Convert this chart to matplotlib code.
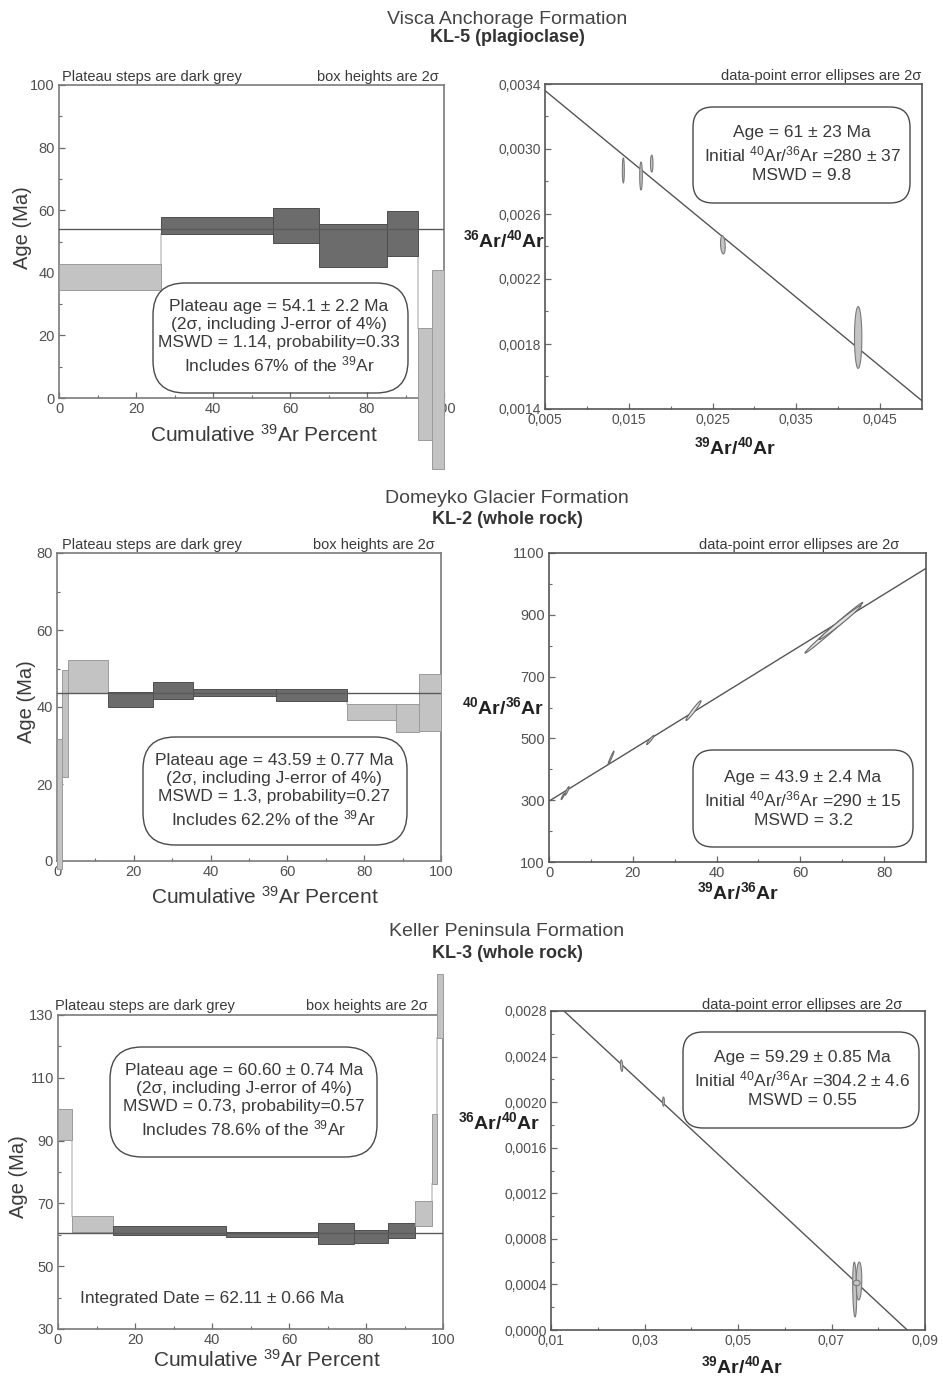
import numpy as np
import matplotlib
matplotlib.use('Agg')
import matplotlib.pyplot as plt
from matplotlib.patches import FancyBboxPatch

plt.rcParams['font.family'] = ['Liberation Sans', 'DejaVu Sans']
plt.rcParams['mathtext.fontset'] = 'custom'
plt.rcParams['mathtext.rm'] = 'Liberation Sans'
plt.rcParams['mathtext.it'] = 'Liberation Sans:italic'
plt.rcParams['mathtext.bf'] = 'Liberation Sans:bold'
plt.rcParams['mathtext.default'] = 'regular'

# ---------------- DATA ----------------
# KL-5 plateau (cumulative 39Ar %, 2-sigma box limits)
kl5_cum = [0, 26.5, 55.6, 67.6, 85.1, 93.3, 97.0, 100]
kl5_lo = [34.6, 52.3, 49.5, 41.9, 45.3, -13.4, -22.7]
kl5_hi = [42.7, 57.8, 60.8, 55.7, 59.6, 22.5, 40.8]
kl5_plat = [0, 1, 1, 1, 1, 0, 0]
kl5_age = 54.1
# KL-5 inverse isochron
kl5_x = [0.01435, 0.01646, 0.01774, 0.02623, 0.04238]
kl5_sx = [0.00012, 0.00016, 0.00015, 0.00028, 0.00044]
kl5_y = [0.002868, 0.002834, 0.00291, 0.00241, 0.00184]
kl5_sy = [0.000077, 0.000086, 0.000052, 0.000056, 0.00019]
kl5_rho = [0.0, 0.0, 0.0, -0.2, 0.0]
kl5_init = 280.0
kl5_xint = 0.0842

# KL-2 plateau
kl2_cum = [0, 1.2, 2.9, 13.3, 24.9, 35.3, 57.0, 75.5, 88.3, 94.2, 100]
kl2_lo = [-2.0, 21.7, 43.7, 39.9, 42.2, 42.9, 41.5, 36.6, 33.6, 33.7]
kl2_hi = [31.6, 49.7, 52.2, 43.9, 46.5, 44.8, 44.8, 40.7, 40.7, 48.7]
kl2_plat = [0, 0, 0, 1, 1, 1, 1, 0, 0, 0]
kl2_age = 43.59
# KL-2 normal isochron
kl2_x = [3.3, 4.3, 14.8, 24.2, 34.5, 68.0, 69.5]
kl2_sx = [0.4, 0.5, 0.72, 0.9, 1.8, 6.9, 5.0]
kl2_y = [312, 330, 437, 495, 590, 858, 875]
kl2_sy = [10, 14, 22, 15, 32, 82, 55]
kl2_rho = [0.9, 0.9, 0.97, 0.95, 0.97, 0.995, 0.99]
kl2_init = 297.0
kl2_slope = 8.37

# KL-3 plateau
kl3_cum = [0, 3.6, 14.2, 43.7, 67.5, 76.8, 85.6, 92.8, 97.1, 98.4, 100]
kl3_lo = [90.2, 61.0, 59.9, 59.2, 57.0, 57.5, 58.9, 62.9, 76.2, 122.8]
kl3_hi = [100.1, 66.1, 62.8, 60.8, 63.7, 61.5, 63.7, 70.8, 98.4, 143.0]
kl3_plat = [0, 0, 1, 1, 1, 1, 1, 0, 0, 0]
kl3_age = 60.60
# KL-3 inverse isochron
kl3_x = [0.0251, 0.03406, 0.07496, 0.07588, 0.07539]
kl3_sx = [0.00025, 0.0002, 0.00043, 0.0006, 0.00075]
kl3_y = [0.00232, 0.002005, 0.000355, 0.00043, 0.000413]
kl3_sy = [0.00005, 0.00004, 0.00024, 0.000167, 0.000024]
kl3_rho = [-0.3, 0.0, -0.2, 0.1, 0.0]
kl3_init = 304.2
kl3_xint = 0.0862

# tick labels
pl_xticks = [0, 20, 40, 60, 80, 100]
pl_xlabels = ['0', '20', '40', '60', '80', '100']
pl_xminor = [10, 30, 50, 70, 90]
kl5_yticks = [0, 20, 40, 60, 80, 100]
kl5_ylabels = ['0', '20', '40', '60', '80', '100']
kl5_yminor = [10, 30, 50, 70, 90]
kl2_yticks = [0, 20, 40, 60, 80]
kl2_ylabels = ['0', '20', '40', '60', '80']
kl2_yminor = [10, 30, 50, 70]
kl3_yticks = [30, 50, 70, 90, 110, 130]
kl3_ylabels = ['30', '50', '70', '90', '110', '130']
kl3_yminor = [40, 60, 80, 100, 120]

iso5_xticks = [0.005, 0.015, 0.025, 0.035, 0.045]
iso5_xlabels = ['0,005', '0,015', '0,025', '0,035', '0,045']
iso5_xminor = [0.01, 0.02, 0.03, 0.04]
iso5_yticks = [0.0014, 0.0018, 0.0022, 0.0026, 0.0030, 0.0034]
iso5_ylabels = ['0,0014', '0,0018', '0,0022', '0,0026', '0,0030', '0,0034']
iso5_yminor = [0.0016, 0.0020, 0.0024, 0.0028, 0.0032]

iso2_xticks = [0, 20, 40, 60, 80]
iso2_xlabels = ['0', '20', '40', '60', '80']
iso2_xminor = [10, 30, 50, 70]
iso2_yticks = [100, 300, 500, 700, 900, 1100]
iso2_ylabels = ['100', '300', '500', '700', '900', '1100']
iso2_yminor = [200, 400, 600, 800, 1000]

iso3_xticks = [0.01, 0.03, 0.05, 0.07, 0.09]
iso3_xlabels = ['0,01', '0,03', '0,05', '0,07', '0,09']
iso3_xminor = [0.02, 0.04, 0.06, 0.08]
iso3_yticks = [0.0, 0.0004, 0.0008, 0.0012, 0.0016, 0.0020, 0.0024, 0.0028]
iso3_ylabels = ['0,0000', '0,0004', '0,0008', '0,0012', '0,0016', '0,0020', '0,0024', '0,0028']
iso3_yminor = [0.0002, 0.0006, 0.0010, 0.0014, 0.0018, 0.0022, 0.0026]

# ---------------- STYLE ----------------
W, H = 943, 1378
DARK, DARK_E = '#6c6c6c', '#4e4e4e'
LIGHT, LIGHT_E = '#c3c3c3', '#9a9a9a'
CONN = '#c8c8c8'
TXT = '#3a3a3a'
TICKC = '#505050'

fig = plt.figure(figsize=(W / 100, H / 100), dpi=100)
fig.patch.set_facecolor('white')


def add_ax(l, t, r, b):
    return fig.add_axes([l / W, 1 - b / H, (r - l) / W, (b - t) / H])


def ftext(px, py, s, **kw):
    kw.setdefault('color', TXT)
    return fig.text(px / W, 1 - py / H, s, **kw)


def rbox(l, t, r, b, rad):
    p = FancyBboxPatch((l / 100, (H - b) / 100), (r - l) / 100, (b - t) / 100,
                       boxstyle=f'round,pad=0,rounding_size={rad}',
                       transform=fig.dpi_scale_trans, fc='none', ec='#4a4a4a', lw=1.0,
                       zorder=10)
    fig.add_artist(p)


def style_axes(ax, xt, xl, xm, yt, yl, ym, spine_c='#6a6a6a', labsize=10.5):
    ax.set_xticks(xt, labels=xl)
    ax.set_xticks(xm, minor=True)
    ax.set_yticks(yt, labels=yl)
    ax.set_yticks(ym, minor=True)
    ax.tick_params(which='both', direction='in', top=False, right=False,
                   color='#6a6a6a', labelcolor=TICKC, labelsize=labsize, pad=3)
    ax.tick_params(which='major', length=4, width=0.9)
    ax.tick_params(which='minor', length=2.5, width=0.8)
    for s in ax.spines.values():
        s.set_color(spine_c)
        s.set_linewidth(1.2)


def plateau(ax, cum, lo, hi, plat, age, ylim, yt, yl, ym):
    cum = np.asarray(cum, float)
    lo = np.asarray(lo, float)
    hi = np.asarray(hi, float)
    left = cum[:-1]
    w = np.diff(cum)
    fcs = [DARK if p else LIGHT for p in plat]
    ecs = [DARK_E if p else LIGHT_E for p in plat]
    # connectors between steps
    for i in range(1, len(lo)):
        if lo[i] > hi[i - 1]:
            ax.plot([cum[i], cum[i]], [hi[i - 1], lo[i]], color=CONN, lw=1.2, zorder=2, clip_on=False)
        elif hi[i] < lo[i - 1]:
            ax.plot([cum[i], cum[i]], [hi[i], lo[i - 1]], color=CONN, lw=1.2, zorder=2, clip_on=False)
    ax.bar(left, hi - lo, bottom=lo, width=w, align='edge', color=fcs, edgecolor=ecs,
           linewidth=0.7, clip_on=False, zorder=3)
    ax.axhline(age, color='#5a5a5a', lw=1.0, zorder=4)
    ax.set_xlim(0, 100)
    ax.set_ylim(*ylim)
    style_axes(ax, pl_xticks, pl_xlabels, pl_xminor, yt, yl, ym, spine_c='#7a7a7a')


def ellipses(ax, xs, sxs, ys, sys_, rhos, fc, ec):
    t = np.linspace(0, 2 * np.pi, 120)
    circ = np.vstack([np.cos(t), np.sin(t)])
    for x, sx, y, sy, r in zip(xs, sxs, ys, sys_, rhos):
        cov = np.array([[sx * sx, r * sx * sy], [r * sx * sy, sy * sy]])
        L = np.linalg.cholesky(cov)
        pts = L @ circ
        ax.fill(x + pts[0], y + pts[1], fc=fc, ec=ec, lw=0.8, zorder=3)


# ---------------- TITLES ----------------
titles = [("Visca Anchorage Formation", "KL-5 (plagioclase)", 19, 37),
          ("Domeyko Glacier Formation", "KL-2 (whole rock)", 498, 520),
          ("Keller Peninsula Formation", "KL-3 (whole rock)", 931, 953)]
for t1, t2, y1, y2 in titles:
    ftext(507, y1, t1, fontsize=14, ha='center', va='center', color='#444444')
    ftext(507, y2, t2, fontsize=13, ha='center', va='center', fontweight='bold', color='#333333')

# ---------------- PLATEAU PANELS ----------------
ax1 = add_ax(59, 85, 444, 398)
plateau(ax1, kl5_cum, kl5_lo, kl5_hi, kl5_plat, kl5_age, (0, 100), kl5_yticks, kl5_ylabels, kl5_yminor)
ax3 = add_ax(57, 553, 441, 861)
plateau(ax3, kl2_cum, kl2_lo, kl2_hi, kl2_plat, kl2_age, (0, 80), kl2_yticks, kl2_ylabels, kl2_yminor)
ax5 = add_ax(58, 1015, 443, 1329)
plateau(ax5, kl3_cum, kl3_lo, kl3_hi, kl3_plat, kl3_age, (30, 130), kl3_yticks, kl3_ylabels, kl3_yminor)

for (lx, ly, rx, ty, agex, agey, cx, cy) in [(62, 81, 439, 81, 22, 228, 264, 435),
                                             (62, 549, 435, 549, 26, 702, 265, 897),
                                             (55, 1010, 428, 1010, 19, 1177, 267, 1360)]:
    ftext(lx, ly, "Plateau steps are dark grey", fontsize=10.5, ha='left', va='baseline')
    ftext(rx, ty, "box heights are 2σ", fontsize=10.5, ha='right', va='baseline')
    ftext(agex, agey, "Age (Ma)", fontsize=14.5, rotation=90, ha='center', va='center')
    ftext(cx, cy, r"Cumulative $^{39}$Ar Percent", fontsize=15, ha='center', va='center')

rbox(153, 283, 408, 393, 0.32)
ftext(279, 337, "Plateau age = 54.1 ± 2.2 Ma\n(2σ, including J-error of 4%)\n"
                "MSWD = 1.14, probability=0.33\nIncludes 67% of the $^{39}$Ar",
      fontsize=12.5, ha='center', va='center', multialignment='center', linespacing=1.25)
rbox(143, 737, 407, 845, 0.32)
ftext(274, 791, "Plateau age = 43.59 ± 0.77 Ma\n(2σ, including J-error of 4%)\n"
                "MSWD = 1.3, probability=0.27\nIncludes 62.2% of the $^{39}$Ar",
      fontsize=12.5, ha='center', va='center', multialignment='center', linespacing=1.25)
rbox(110, 1047, 377, 1157, 0.32)
ftext(244, 1101, "Plateau age = 60.60 ± 0.74 Ma\n(2σ, including J-error of 4%)\n"
                 "MSWD = 0.73, probability=0.57\nIncludes 78.6% of the $^{39}$Ar",
      fontsize=12.5, ha='center', va='center', multialignment='center', linespacing=1.25)
ftext(212, 1298, "Integrated Date = 62.11 ± 0.66 Ma", fontsize=12.5, ha='center', va='center')

# ---------------- ISOCHRON PANELS ----------------
ax2 = add_ax(545, 84, 922, 409)
ax2.set_xlim(0.005, 0.05)
ax2.set_ylim(0.0014, 0.0034)
xx = np.array(ax2.get_xlim())
ax2.plot(xx, (1 / kl5_init) * (1 - xx / kl5_xint), color='#555555', lw=1.0, zorder=2)
ellipses(ax2, kl5_x, kl5_sx, kl5_y, kl5_sy, kl5_rho, '#c4c4c4', '#7a7a7a')
style_axes(ax2, iso5_xticks, iso5_xlabels, iso5_xminor, iso5_yticks, iso5_ylabels, iso5_yminor,
           spine_c='#555555', labsize=10)

ax4 = add_ax(549, 553, 926, 862)
ax4.set_xlim(0, 90)
ax4.set_ylim(100, 1100)
xx = np.array(ax4.get_xlim())
ax4.plot(xx, kl2_init + kl2_slope * xx, color='#555555', lw=1.0, zorder=2)
ellipses(ax4, kl2_x, kl2_sx, kl2_y, kl2_sy, kl2_rho, '#e4e4e4', '#6a6a6a')
style_axes(ax4, iso2_xticks, iso2_xlabels, iso2_xminor, iso2_yticks, iso2_ylabels, iso2_yminor,
           spine_c='#555555', labsize=10.5)

ax6 = add_ax(551, 1011, 925, 1330)
ax6.set_xlim(0.01, 0.09)
ax6.set_ylim(0.0, 0.0028)
xx = np.array(ax6.get_xlim())
ax6.plot(xx, (1 / kl3_init) * (1 - xx / kl3_xint), color='#555555', lw=1.0, zorder=2)
ellipses(ax6, kl3_x, kl3_sx, kl3_y, kl3_sy, kl3_rho, '#c4c4c4', '#7a7a7a')
style_axes(ax6, iso3_xticks, iso3_xlabels, iso3_xminor, iso3_yticks, iso3_ylabels, iso3_yminor,
           spine_c='#555555', labsize=10)

for (rx, ty, ylx, yly, ylab, xlx, xly, xlab) in [
        (921, 80, 504, 240, r"$\mathbf{^{36}Ar/^{40}Ar}$", 735, 447, r"$\mathbf{^{39}Ar/^{40}Ar}$"),
        (899, 549, 503, 707, r"$\mathbf{^{40}Ar/^{36}Ar}$", 738, 892, r"$\mathbf{^{39}Ar/^{36}Ar}$"),
        (902, 1009, 499, 1122, r"$\mathbf{^{36}Ar/^{40}Ar}$", 742, 1366, r"$\mathbf{^{39}Ar/^{40}Ar}$")]:
    ftext(rx, ty, "data-point error ellipses are 2σ", fontsize=10.5, ha='right', va='baseline')
    ftext(ylx, yly, ylab, fontsize=14, ha='center', va='center', color='#222222')
    ftext(xlx, xly, xlab, fontsize=14, ha='center', va='center', color='#222222')

rbox(693, 107, 910, 203, 0.2)
ftext(802, 154, "Age = 61 ± 23 Ma\nInitial $^{40}$Ar/$^{36}$Ar =280 ± 37\nMSWD = 9.8",
      fontsize=12.5, ha='center', va='center', multialignment='center', linespacing=1.3)
rbox(693, 750, 913, 847, 0.2)
ftext(803, 799, "Age = 43.9 ± 2.4 Ma\nInitial $^{40}$Ar/$^{36}$Ar =290 ± 15\nMSWD = 3.2",
      fontsize=12.5, ha='center', va='center', multialignment='center', linespacing=1.3)
rbox(683, 1032, 919, 1128, 0.2)
ftext(802, 1079, "Age = 59.29 ± 0.85 Ma\nInitial $^{40}$Ar/$^{36}$Ar =304.2 ± 4.6\nMSWD = 0.55",
      fontsize=12.5, ha='center', va='center', multialignment='center', linespacing=1.3)

fig.savefig('out.png', dpi=100, facecolor='white')
